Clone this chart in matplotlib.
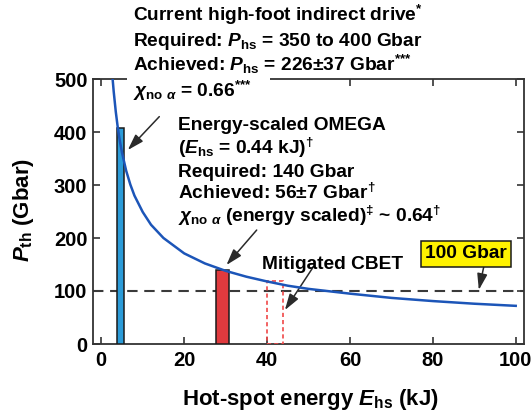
import matplotlib
matplotlib.use('Agg')
import matplotlib.pyplot as plt
from matplotlib.patches import Rectangle

# ---------------- DATA ---------------- #

# threshold pressure curve (kJ, Gbar)
energy_kj = [2.7, 3, 3.5, 4, 4.5, 5, 6, 7, 8, 10, 12, 15, 20, 25, 30, 35, 40, 45, 50, 60, 70, 80, 90, 100]
p_th = [503, 476, 438, 407, 382, 361, 327, 301, 280, 249, 225, 200, 171, 152, 138, 127, 118, 110, 104, 95, 87, 81, 76, 72]

# bars: indirect drive, energy-scaled OMEGA, mitigated CBET
bar_left = [3.7, 27.8, 40.1]
bar_right = [5.4, 30.8, 43.9]
bar_top = [408, 140, 118]

threshold = 100

x_ticks = [0, 20, 40, 60, 80, 100]
y_ticks = [0, 100, 200, 300, 400, 500]

# ---------------- STYLE ---------------- #

plt.rcParams['font.family'] = ['Liberation Sans', 'DejaVu Sans']
plt.rcParams['font.weight'] = 'bold'
plt.rcParams['mathtext.fontset'] = 'custom'
plt.rcParams['mathtext.rm'] = 'Liberation Sans:bold'
plt.rcParams['mathtext.it'] = 'Liberation Sans:italic:bold'
plt.rcParams['mathtext.bf'] = 'Liberation Sans:bold'
plt.rcParams['mathtext.sf'] = 'Liberation Sans:bold'

W, H = 532, 416
FS = 13.8       # annotation text
FS_TICK = 14.5
FS_LABEL = 16

fig = plt.figure(figsize=(W / 100, H / 100), dpi=100)
ax = fig.add_axes([93 / W, 72 / H, 431 / W, 265 / H])


def put(x, y, s, **kw):
    # place text by pixel position (baseline)
    kw.setdefault('fontsize', FS)
    kw.setdefault('va', 'baseline')
    kw.setdefault('ha', 'left')
    return fig.text(x / W, 1 - y / H, s, fontweight='bold', zorder=5, **kw)


# curve
ax.plot(energy_kj, p_th, color='#1c55b8', lw=1.8, zorder=4)

# bars
width = [r - l for l, r in zip(bar_left, bar_right)]
ax.bar(bar_left[0], bar_top[0], width=width[0], align='edge',
       color='#2b9bd8', edgecolor='#1a1a1a', lw=1.1, zorder=3)
ax.bar(bar_left[1], bar_top[1], width=width[1], align='edge',
       color='#e03a3e', edgecolor='#1a1a1a', lw=1.1, zorder=3)
ax.bar(bar_left[2], bar_top[2], width=width[2], align='edge',
       fill=False, edgecolor='#f04848', lw=1.2, linestyle=(0, (2.5, 1.8)), zorder=3)

# 100 Gbar line
ax.axhline(threshold, color='#3a3a3a', lw=1.5, dashes=(5, 3.2), zorder=2)

ax.set_xlim(-2, 102)
ax.set_ylim(0, 500)
ax.set_xticks(x_ticks)
ax.set_yticks(y_ticks)
ax.tick_params(direction='in', length=5, width=1.2, top=True, right=True,
               labelsize=FS_TICK, color='#333333')
ax.tick_params(axis='x', pad=5)
ax.tick_params(axis='y', pad=4)
for s in ax.spines.values():
    s.set_linewidth(1.3)
    s.set_color('#333333')

# arrows
arrow = dict(arrowstyle='-|>,head_length=0.7,head_width=0.22', color='#2a2a2a',
             lw=1.1, mutation_scale=14, shrinkA=0, shrinkB=0)
ax.annotate('', xy=(6.4, 366), xytext=(14, 429), arrowprops=arrow)
ax.annotate('', xy=(30.2, 149), xytext=(37.5, 215), arrowprops=arrow)
ax.annotate('', xy=(44.3, 64), xytext=(51.2, 146), arrowprops=arrow)
ax.annotate('', xy=(91.1, 102), xytext=(92.3, 146), arrowprops=arrow)

# gap in top spine (and its ticks) behind the heading
fig.add_artist(Rectangle((127 / W, 1 - 87 / H), 143 / W, 11 / H, transform=fig.transFigure,
                         facecolor='white', edgecolor='none', zorder=1))

# heading
put(133, 21, r'Current high-foot indirect drive$^{*}$')
put(133, 46, r'Required: $P_{\mathrm{hs}}$ = 350 to 400 Gbar')
put(133, 71, r'Achieved: $P_{\mathrm{hs}}$ = 226$\pm$37 Gbar$^{{*}{*}{*}}$')
put(133, 97, r'$\chi_{\mathrm{no}\ \alpha}$ = 0.66$^{{*}{*}{*}}$')

# OMEGA block
put(178, 130, 'Energy-scaled OMEGA')
put(178, 154, r'($E_{\mathrm{hs}}$ = 0.44 kJ)$^{\dagger}$')
put(178, 177, 'Required: 140 Gbar')
put(178, 199, r'Achieved: 56$\pm$7 Gbar$^{\dagger}$')
put(178, 222, r'$\chi_{\mathrm{no}\ \alpha}$ (energy scaled)$^{\ddagger}$ ~ 0.64$^{\dagger}$')

put(262, 269, 'Mitigated CBET')
put(466, 254, '100 Gbar', ha='center', va='center',
    bbox=dict(boxstyle='square,pad=0.22', facecolor='#fff200', edgecolor='#1a1a1a', lw=1.1))

# axis labels
put(310, 405, r'Hot-spot energy $E_{\mathrm{hs}}$ (kJ)', ha='center', fontsize=FS_LABEL)
put(23, 210, r'$P_{\mathrm{th}}$ (Gbar)', ha='center', va='center', rotation=90, fontsize=FS_LABEL)

plt.savefig('out.png', dpi=100)
